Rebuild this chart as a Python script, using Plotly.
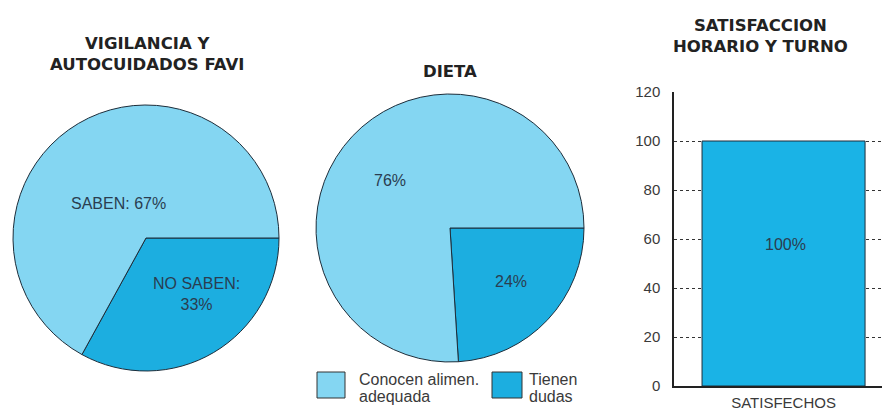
import plotly.graph_objects as go

# ---- data ----
pie1_labels = ["NO SABEN", "SABEN"]
pie1_values = [33, 67]
pie2_labels = ["Tienen dudas", "Conocen alimen. adequada"]
pie2_values = [24, 76]
bar_categories = ["SATISFECHOS"]
bar_values = [100]
y_ticks = [0, 20, 40, 60, 80, 100, 120]

title1 = ["VIGILANCIA Y", "AUTOCUIDADOS FAVI"]
title2 = ["DIETA"]
title3 = ["SATISFACCION", "HORARIO Y TURNO"]
legend_text1 = ["Conocen alimen.", "adequada"]
legend_text2 = ["Tienen", "dudas"]

light = "#84d6f2"
dark = "#1caee0"
barcol = "#1ab3e6"
textcol = "#2a3d50"
W, H = 882, 410
TITLE_FONT = "DejaVu Sans, Arial, sans-serif"

def px(x):
    return x / W

def py(y):
    return 1 - y / H

fig = go.Figure()

fig.add_trace(go.Pie(
    labels=pie1_labels, values=pie1_values, sort=False, direction="clockwise",
    rotation=90, marker=dict(colors=[dark, light], line=dict(color="#1d2d3a", width=1)),
    textinfo="none", hoverinfo="skip", showlegend=False,
    domain=dict(x=[px(13), px(279)], y=[py(371), py(105)]),
))
fig.add_trace(go.Pie(
    labels=pie2_labels, values=pie2_values, sort=False, direction="clockwise",
    rotation=90, marker=dict(colors=[dark, light], line=dict(color="#1d2d3a", width=1)),
    textinfo="none", hoverinfo="skip", showlegend=False,
    domain=dict(x=[px(316), px(584)], y=[py(362), py(94)]),
))
fig.add_trace(go.Bar(
    x=bar_categories, y=bar_values, width=[1.0],
    marker=dict(color=barcol, line=dict(color="#1d2d3a", width=1)),
    hoverinfo="skip", showlegend=False,
))

fig.update_layout(
    width=W, height=H, margin=dict(l=0, r=0, t=0, b=0, pad=0),
    paper_bgcolor="white", plot_bgcolor="white",
    font=dict(family="Liberation Sans, Arial, sans-serif", color=textcol, size=13),
    xaxis=dict(domain=[px(674), 1.0], type="category", range=[-0.672, 0.604],
               automargin=False, showgrid=False, showline=True, linecolor="#222",
               linewidth=1.5, ticks="", ticklabelstandoff=2,
               tickfont=dict(size=15, color="#3a3a3a"), fixedrange=True),
    yaxis=dict(domain=[py(386), py(92)], range=[0, 120], tickvals=y_ticks,
               automargin=False, showgrid=True, gridcolor="#333", griddash="dot",
               gridwidth=1, showline=True, linecolor="#222", linewidth=1.5,
               zeroline=False, ticks="", ticklabelstandoff=9,
               tickfont=dict(size=15, color="#3a3a3a"), fixedrange=True),
)

ann = []
def add(text, x, y, size=16, bold=False, color=textcol, xanchor="center", family=None):
    f = dict(size=size, color=color)
    if family:
        f["family"] = family
    ann.append(dict(text=("<b>%s</b>" % text) if bold else text, x=px(x), y=py(y),
                    xref="paper", yref="paper", showarrow=False, xanchor=xanchor,
                    yanchor="middle", font=f))

add("<br>".join("<b>%s</b>" % t for t in title1), 147, 54, size=16.5, color="#222", family=TITLE_FONT)
add("<b>%s</b>" % title2[0], 450, 72, size=16.5, color="#222", family=TITLE_FONT)
add("<br>".join("<b>%s</b>" % t for t in title3), 760, 36, size=16.5, color="#222", family=TITLE_FONT)

add("SABEN: %d%%" % pie1_values[1], 118, 203)
add("NO SABEN:<br>%d%%" % pie1_values[0], 196, 294)
add("%d%%" % pie2_values[1], 390, 181)
add("%d%%" % pie2_values[0], 511, 281)
add("%d%%" % bar_values[0], 785, 244)

# legend for DIETA
shapes = [
    dict(type="rect", xref="paper", yref="paper", x0=px(317), x1=px(345), y0=py(398), y1=py(372),
         fillcolor=light, line=dict(color="#333", width=1)),
    dict(type="rect", xref="paper", yref="paper", x0=px(492), x1=px(522), y0=py(398), y1=py(372),
         fillcolor=dark, line=dict(color="#333", width=1)),
]
add(legend_text1[0], 357, 379, size=16, color="#3a3a3a", xanchor="left")
add(legend_text1[1], 357, 396, size=16, color="#3a3a3a", xanchor="left")
add(legend_text2[0], 527, 379, size=16, color="#3a3a3a", xanchor="left")
add(legend_text2[1], 527, 396, size=16, color="#3a3a3a", xanchor="left")

fig.update_layout(annotations=ann, shapes=shapes)
fig.write_html("out.html", config={"displayModeBar": False},
               post_script="document.body.style.margin='0px';document.body.style.padding='0px';")
